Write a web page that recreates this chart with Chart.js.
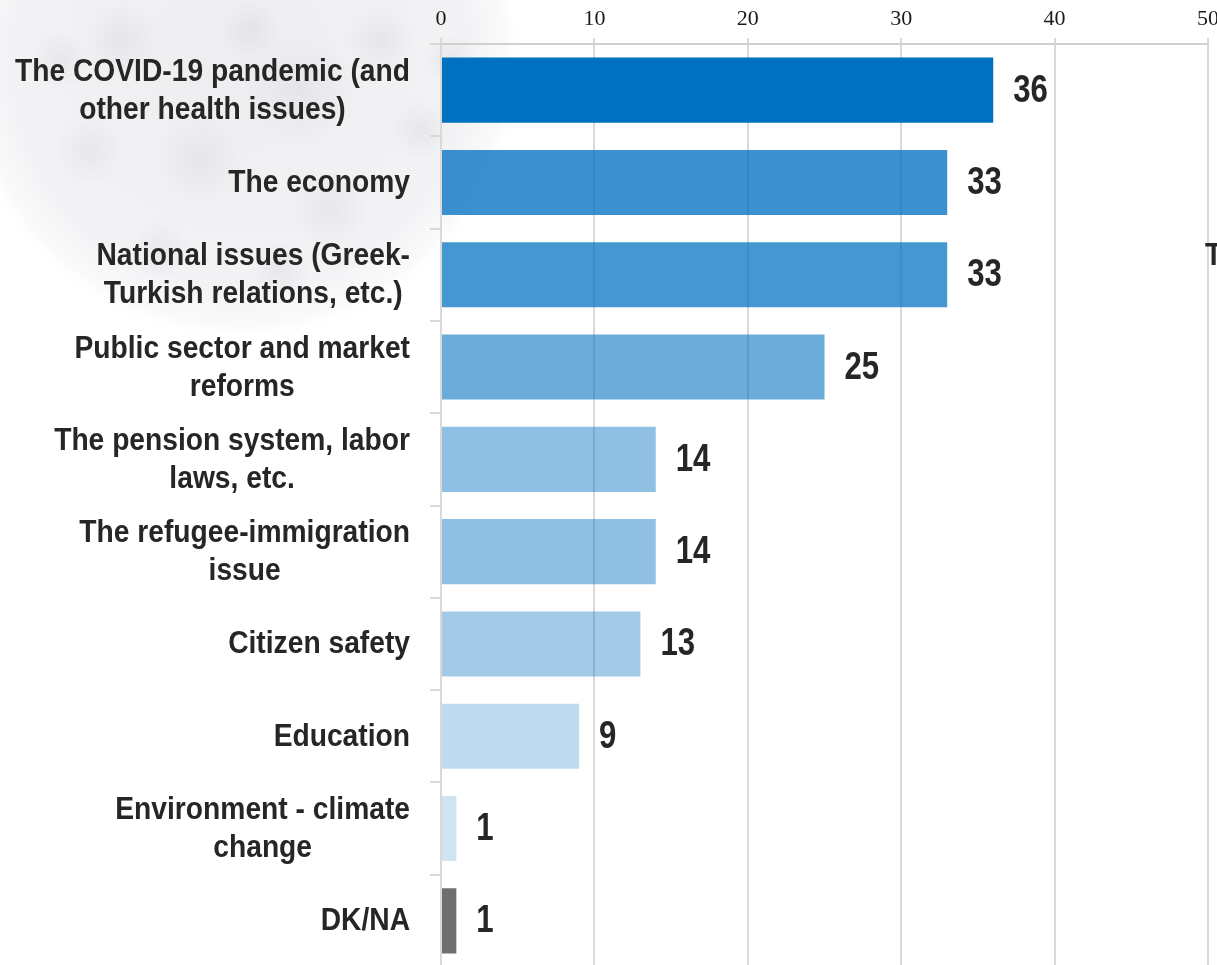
<!DOCTYPE html>
<html>
<head>
<meta charset="utf-8">
<script src="https://cdn.jsdelivr.net/npm/chart.js@4.4.1/dist/chart.umd.min.js"></script>
<style>
  html, body { margin: 0; padding: 0; background: #ffffff; overflow: hidden; }
  #wrap { width: 1240px; height: 980px; }
</style>
</head>
<body>
<div id="wrap"><canvas id="c" width="1240" height="980"></canvas></div>
<script>
// ---- data ----
const categories = [
  ["The COVID-19 pandemic (and", "other health issues)"],
  ["The economy"],
  ["National issues (Greek-", "Turkish relations, etc.)"],
  ["Public sector and market", "reforms"],
  ["The pension system, labor", "laws, etc."],
  ["The refugee-immigration", "issue"],
  ["Citizen safety"],
  ["Education"],
  ["Environment - climate", "change"],
  ["DK/NA"]
];
const values = [36, 33, 33, 25, 14, 14, 13, 9, 1, 1];
const xTickMin = 0;
const xTickMax = 50;
const xTickStep = 10;
const barColors = [
  "rgba(0,112,192,1)",
  "rgba(0,112,192,0.77)",
  "rgba(0,112,192,0.73)",
  "rgba(0,112,192,0.58)",
  "rgba(0,112,192,0.44)",
  "rgba(0,112,192,0.44)",
  "rgba(0,112,192,0.36)",
  "rgba(0,112,192,0.25)",
  "rgba(0,112,192,0.19)",
  "rgba(111,111,111,1)"
];

const LABEL_FONT = "'Liberation Sans', Arial, sans-serif";
const TEXT_COLOR = "#262626";

function narrowText(ctx, text, x, y, align, squeeze) {
  const w = ctx.measureText(text).width * squeeze;
  let left = x;
  if (align === 'center') left = x - w / 2;
  else if (align === 'right') left = x - w;
  ctx.save();
  ctx.translate(left, y);
  ctx.scale(squeeze, 1);
  ctx.textAlign = 'left';
  ctx.fillText(text, 0, 0);
  ctx.restore();
}

// faint globe-like background in the upper-left
const backgroundPlugin = {
  id: 'bgGlobe',
  beforeDraw(chart) {
    const ctx = chart.ctx;
    ctx.save();
    ctx.fillStyle = '#ffffff';
    ctx.fillRect(0, 0, chart.width, chart.height);
    const cx = 240, cy = 60, r = 280;
    const g = ctx.createRadialGradient(cx, cy, 20, cx, cy, r);
    g.addColorStop(0, 'rgba(215,217,222,0.45)');
    g.addColorStop(0.8, 'rgba(222,224,228,0.40)');
    g.addColorStop(0.94, 'rgba(232,234,238,0.25)');
    g.addColorStop(1, 'rgba(245,246,248,0)');
    ctx.fillStyle = g;
    ctx.beginPath();
    ctx.arc(cx, cy, r, 0, Math.PI * 2);
    ctx.fill();
    const spots = [[120,40,40],[300,90,55],[200,160,45],[380,40,35],[90,150,35],[330,210,40],[250,30,30],[420,130,30],[160,250,30],[60,60,30],[450,60,25],[280,270,30]];
    for (const [x, y, rr] of spots) {
      const sg = ctx.createRadialGradient(x, y, 2, x, y, rr);
      sg.addColorStop(0, 'rgba(195,197,202,0.22)');
      sg.addColorStop(1, 'rgba(195,197,202,0)');
      ctx.fillStyle = sg;
      ctx.beginPath();
      ctx.arc(x, y, rr, 0, Math.PI * 2);
      ctx.fill();
    }
    ctx.restore();
  }
};

// category labels: block right-aligned, lines centred within the block
const categoryLabelPlugin = {
  id: 'catLabels',
  afterDraw(chart) {
    const ctx = chart.ctx;
    const yScale = chart.scales.y;
    const rightEdge = yScale.right - 11 - 20;
    const sq = 0.91;
    ctx.save();
    ctx.font = "bold 31px " + LABEL_FONT;
    ctx.fillStyle = TEXT_COLOR;
    ctx.textBaseline = 'middle';
    const lh = 38;
    categories.forEach((lines, i) => {
      const yc = yScale.getPixelForValue(i);
      let maxW = 0;
      lines.forEach(l => { maxW = Math.max(maxW, ctx.measureText(l).width * sq); });
      const cx = rightEdge - maxW / 2;
      lines.forEach((l, j) => {
        narrowText(ctx, l, cx, yc + 1 + (j - (lines.length - 1) / 2) * lh, 'center', sq);
      });
    });
    // clipped label at the right edge
    narrowText(ctx, 'T', 1205, 256, 'left', sq);
    ctx.restore();
  }
};

// value labels at bar ends
const valueLabelPlugin = {
  id: 'valLabels',
  afterDatasetsDraw(chart) {
    const ctx = chart.ctx;
    const meta = chart.getDatasetMeta(0);
    const xScale = chart.scales.x;
    ctx.save();
    ctx.font = "bold 38px " + LABEL_FONT;
    ctx.fillStyle = TEXT_COLOR;
    ctx.textBaseline = 'middle';
    meta.data.forEach((bar, i) => {
      const x = xScale.getPixelForValue(values[i]) + 20;
      narrowText(ctx, String(values[i]), x, bar.y + 1, 'left', 0.82);
    });
    ctx.restore();
  }
};

new Chart(document.getElementById('c'), {
  type: 'bar',
  data: {
    labels: categories,
    datasets: [{
      data: values,
      backgroundColor: barColors,
      borderWidth: 0,
      barPercentage: 0.705,
      categoryPercentage: 1.0
    }]
  },
  options: {
    indexAxis: 'y',
    responsive: false,
    animation: false,
    devicePixelRatio: 1,
    layout: { padding: { left: 0, top: 0, right: 32, bottom: 13 } },
    plugins: {
      legend: { display: false },
      tooltip: { enabled: false },
      title: { display: false }
    },
    scales: {
      x: {
        position: 'top',
        min: xTickMin,
        max: xTickMax,
        ticks: {
          stepSize: xTickStep,
          color: '#1a1a1a',
          font: { family: "'Liberation Serif', 'DejaVu Serif', serif", size: 22 },
          padding: 6
        },
        grid: {
          color: '#d9d9d9',
          lineWidth: 2,
          tickLength: 6,
          drawTicks: true
        },
        border: { display: true, color: '#d0d0d0', width: 2 },
        afterFit(scale) { scale.height = 44; }
      },
      y: {
        position: 'left',
        offset: true,
        ticks: { display: false },
        grid: {
          offset: true,
          drawOnChartArea: false,
          drawTicks: true,
          tickLength: 11,
          color: '#d9d9d9',
          lineWidth: 2
        },
        border: { display: true, color: '#d9d9d9', width: 2 },
        afterFit(scale) { scale.width = 441; }
      }
    }
  },
  plugins: [backgroundPlugin, categoryLabelPlugin, valueLabelPlugin]
});
</script>
</body>
</html>
